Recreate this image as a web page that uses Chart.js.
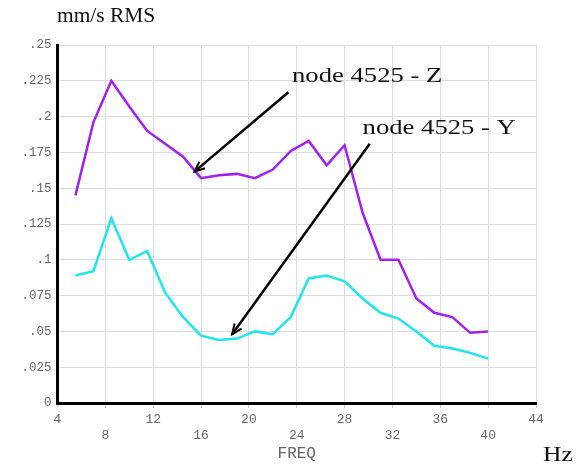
<!DOCTYPE html>
<html>
<head>
<meta charset="utf-8">
<script src="https://cdn.jsdelivr.net/npm/chart.js@4"></script>
<style>
  html, body { margin: 0; padding: 0; background: #fff; }
  #wrap { width: 582px; height: 465px; }
</style>
</head>
<body>
<div id="wrap"><canvas id="diagram"></canvas></div>
<script>
// frequency (Hz) and response (mm/s RMS)
const freq   = [5.5, 7, 8.5, 10, 11.5, 13, 14.5, 16, 17.5, 19, 20.5, 22, 23.5, 25, 26.5, 28, 29.5, 31, 32.5, 34, 35.5, 37, 38.5, 40];
const nodeZ  = [0.145, 0.196, 0.225, 0.207, 0.190, 0.181, 0.172, 0.157, 0.159, 0.160, 0.157, 0.163, 0.176, 0.183, 0.166, 0.180, 0.133, 0.100, 0.100, 0.073, 0.063, 0.060, 0.049, 0.050];
const nodeY  = [0.089, 0.092, 0.129, 0.100, 0.106, 0.077, 0.060, 0.047, 0.044, 0.045, 0.050, 0.048, 0.060, 0.087, 0.089, 0.085, 0.073, 0.063, 0.059, 0.050, 0.040, 0.038, 0.035, 0.031];
const xTicks = [4, 8, 12, 16, 20, 24, 28, 32, 36, 40, 44];
const yTicks = [0, 0.025, 0.05, 0.075, 0.1, 0.125, 0.15, 0.175, 0.2, 0.225, 0.25];

// callouts: text + arrow (tail -> tip), in data units
const callouts = [
  { text: 'node 4525 - Z', tx: 23.6, ty: 0.224, from: [23.3, 0.217], to: [15.45, 0.1616] },
  { text: 'node 4525 - Y', tx: 29.5, ty: 0.188, from: [30.1, 0.181], to: [18.6, 0.048] }
];

function pts(ys) { return freq.map((f, i) => ({ x: f, y: ys[i] })); }

function yLabel(v) {
  if (v === 0) return '0';
  return String(+v.toFixed(3)).replace(/^0/, '');
}

function stretchText(ctx, txt, x, y, font, sx) {
  ctx.save();
  ctx.font = font;
  ctx.translate(x, y);
  ctx.scale(sx, 1);
  ctx.fillText(txt, 0, 0);
  ctx.restore();
}

const extras = {
  id: 'extras',
  afterDatasetsDraw(chart) {
    const ctx = chart.ctx;
    const xs = chart.scales.x, ys = chart.scales.y;
    ctx.save();
    ctx.fillStyle = '#111';
    ctx.textBaseline = 'alphabetic';
    ctx.textAlign = 'left';
    stretchText(ctx, 'mm/s RMS', 57, 22, "20px 'Liberation Serif'", 1.07);
    stretchText(ctx, 'Hz', 543, 461, "21px 'Liberation Serif'", 1.22);

    ctx.fillStyle = '#666';
    ctx.font = "16px 'Liberation Mono'";
    ctx.textAlign = 'center';
    ctx.fillText('FREQ', (chart.chartArea.left + chart.chartArea.right) / 2, 458);

    callouts.forEach(c => {
      ctx.fillStyle = '#111';
      ctx.textAlign = 'left';
      stretchText(ctx, c.text, xs.getPixelForValue(c.tx), ys.getPixelForValue(c.ty), "21px 'Liberation Serif'", 1.27);
      const x1 = xs.getPixelForValue(c.from[0]), y1 = ys.getPixelForValue(c.from[1]);
      const x2 = xs.getPixelForValue(c.to[0]), y2 = ys.getPixelForValue(c.to[1]);
      ctx.strokeStyle = '#000';
      ctx.lineWidth = 2.5;
      ctx.beginPath();
      ctx.moveTo(x1, y1);
      ctx.lineTo(x2, y2);
      ctx.stroke();
      const a = Math.atan2(y2 - y1, x2 - x1);
      const L = 11, w = 0.4;
      ctx.lineWidth = 2;
      ctx.beginPath();
      ctx.moveTo(x2 - L * Math.cos(a - w), y2 - L * Math.sin(a - w));
      ctx.lineTo(x2, y2);
      ctx.lineTo(x2 - L * Math.cos(a + w), y2 - L * Math.sin(a + w));
      ctx.stroke();
    });
    ctx.restore();
  }
};

new Chart(document.getElementById('diagram'), {
  type: 'line',
  data: {
    datasets: [
      { label: 'node 4525 - Z', data: pts(nodeZ), borderColor: '#a020f0', borderWidth: 2.5, pointRadius: 0, tension: 0 },
      { label: 'node 4525 - Y', data: pts(nodeY), borderColor: '#1ee6ec', borderWidth: 2.5, pointRadius: 0, tension: 0 }
    ]
  },
  options: {
    responsive: true,
    maintainAspectRatio: false,
    animation: false,
    layout: { padding: { left: 0, top: 45, right: 46, bottom: 0 } },
    plugins: { legend: { display: false }, tooltip: { enabled: false } },
    scales: {
      x: {
        type: 'linear',
        min: 4, max: 44,
        afterFit(s) { s.height = 62; },
        afterBuildTicks(s) { s.ticks = xTicks.map(v => ({ value: v })); },
        grid: { color: '#dcdcdc', lineWidth: 1, drawTicks: true, tickLength: 5, tickColor: '#ccc' },
        border: { color: '#000', width: 3 },
        ticks: {
          autoSkip: false, maxRotation: 0, padding: 3,
          color: '#666',
          font: { family: 'Liberation Mono', size: 13, lineHeight: 1.25 },
          callback(v) {
            const i = xTicks.indexOf(v);
            return i % 2 === 0 ? [String(v)] : ['', String(v)];
          }
        }
      },
      y: {
        min: 0, max: 0.25,
        afterFit(s) { s.width = 57.5; },
        afterBuildTicks(s) { s.ticks = yTicks.map(v => ({ value: v })); },
        grid: { color: '#dcdcdc', lineWidth: 1, drawTicks: false },
        border: { color: '#000', width: 3 },
        ticks: {
          padding: 6,
          color: '#666',
          font: { family: 'Liberation Mono', size: 12.5 },
          callback: yLabel
        }
      }
    }
  },
  plugins: [extras]
});
</script>
</body>
</html>
